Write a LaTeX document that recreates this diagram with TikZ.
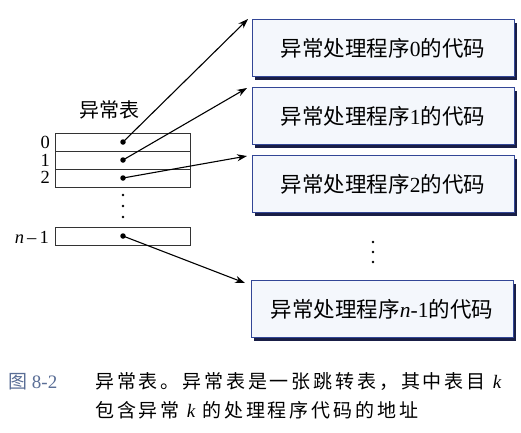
\documentclass[tikz,border=0pt]{standalone}
\usepackage{fontspec}
\setmainfont{Liberation Serif}
\newfontfamily\cjk{Noto Sans CJK SC}
\newfontfamily\capcjk[LetterSpace=15]{Noto Sans CJK SC}
\usetikzlibrary{arrows.meta,shadows}
\definecolor{boxfill}{RGB}{244,247,252}
\definecolor{boxdraw}{RGB}{50,70,150}
\definecolor{boxshadow}{RGB}{25,30,70}
\definecolor{capblue}{RGB}{90,110,150}
\begin{document}
\begin{tikzpicture}[x=1pt,y=-1pt,
  rowbox/.style={draw=black!80,line width=0.6pt,minimum width=135pt,minimum height=18pt,inner sep=0pt},
  codebox/.style={draw=boxdraw,line width=1pt,fill=boxfill,minimum width=262pt,minimum height=57pt,inner sep=0pt,
     font=\fontsize{21.5}{24}\selectfont,
     drop shadow={shadow xshift=3pt,shadow yshift=-3pt,fill=boxshadow,opacity=1}},
  dotpt/.style={circle,fill=black,inner sep=0pt,minimum size=5.5pt},
  smalldot/.style={circle,fill=black,inner sep=0pt,minimum size=2.6pt},
  rowlab/.style={anchor=east,inner sep=0pt,text height=12pt,text depth=0pt,font=\fontsize{18.5}{19}\selectfont},
  ptr/.style={-{Stealth[length=10pt,width=7pt]},line width=1.1pt},
  captext/.style={anchor=west,inner sep=0pt,font=\capcjk\fontsize{19}{20}\selectfont}]
\useasboundingbox (0,0) rectangle (521,432);
\fill[white] (0,0) rectangle (521,432);
% table
\node[font=\cjk\fontsize{20}{22}\selectfont] (title) at (109,110) {异常表};
\node[rowbox] (r0) at (122.5,142) {};
\node[rowbox] (r1) at (122.5,160) {};
\node[rowbox] (r2) at (122.5,178) {};
\node[rowbox] (rn) at (122.5,236) {};
\node[rowlab] (l0) at (50,142.5) {0};
\node[rowlab] (l1) at (50,160) {1};
\node[rowlab] (l2) at (50,177.5) {2};
\node[rowlab] (ln) at (49,237) {\textit{n}\,--\,1};
\node[dotpt] (d0) at (123,142) {};
\node[dotpt] (d1) at (123,160) {};
\node[dotpt] (d2) at (123,178) {};
\node[dotpt] (dn) at (123,236) {};
\node[smalldot] (v1) at (123,195) {};
\node[smalldot] (v2) at (123,206) {};
\node[smalldot] (v3) at (123,217) {};
% code boxes
\node[codebox] (b0) at (383,48) {{\cjk 异常处理程序}0{\cjk 的代码}};
\node[codebox] (b1) at (383,116) {{\cjk 异常处理程序}1{\cjk 的代码}};
\node[codebox] (b2) at (383,184) {{\cjk 异常处理程序}2{\cjk 的代码}};
\node[codebox] (bn) at (382,309) {{\cjk 异常处理程序}\textit{n}-1{\cjk 的代码}};
\node[smalldot] (w1) at (373,242) {};
\node[smalldot] (w2) at (373,252) {};
\node[smalldot] (w3) at (373,262) {};
% pointers
\coordinate (t0) at (248,19);
\coordinate (t1) at (247,88);
\coordinate (t2) at (247,156);
\coordinate (tn) at (245,283);
\draw[ptr] (d0.center) -- (t0);
\draw[ptr] (d1.center) -- (t1);
\draw[ptr] (d2.center) -- (t2);
\draw[ptr] (dn.center) -- (tn);
% caption
\node[captext,text=capblue,font=\fontsize{19}{20}\selectfont] (cl) at (8,382) {{\cjk 图} 8-2};
\node[captext] (c1) at (95,382) {异常表。异常表是一张跳转表，其中表目 {\fontspec{Liberation Serif}\itshape k}};
\node[captext] (c2) at (95,410) {包含异常 {\fontspec{Liberation Serif}\itshape k} 的处理程序代码的地址};
\end{tikzpicture}
\end{document}
